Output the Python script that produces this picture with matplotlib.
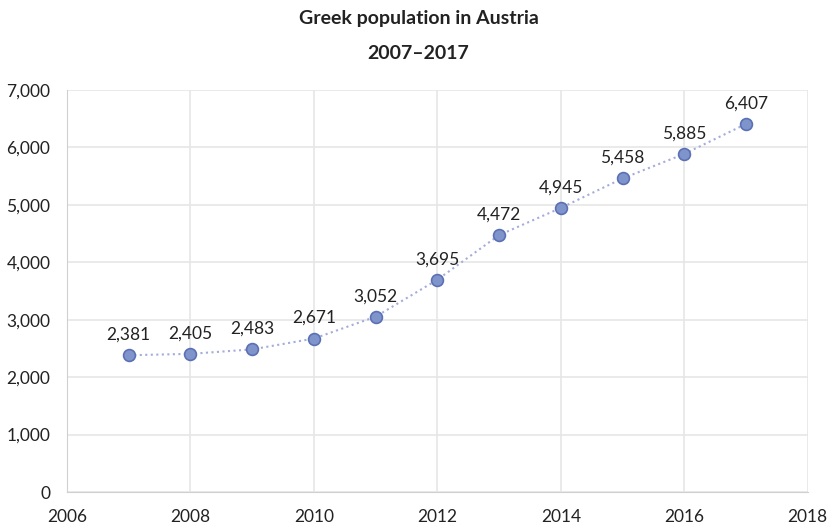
import matplotlib.pyplot as plt

years = [2007, 2008, 2009, 2010, 2011, 2012, 2013, 2014, 2015, 2016, 2017]
population = [2381, 2405, 2483, 2671, 3052, 3695, 4472, 4945, 5458, 5885, 6407]

plt.rcParams['font.family'] = ['Lato', 'DejaVu Sans']

fig = plt.figure(figsize=(8.37, 5.26), dpi=100)
ax = fig.add_axes([0.080, 0.0646, 0.885, 0.7645])

ax.plot(years, population, linestyle=':', color='#a3acdb', linewidth=1.5, zorder=2)
ax.plot(years, population, 'o', markersize=8.5, markerfacecolor='#8094cc',
        markeredgecolor='#5b70b4', markeredgewidth=1.2, zorder=3)

for x, y in zip(years, population):
    ax.annotate(f'{y:,}', (x, y), xytext=(0, 9), textcoords='offset points',
                ha='center', va='bottom', fontsize=12.5, color='#222222')

ax.set_xlim(2006, 2018)
ax.set_ylim(0, 7000)
ax.set_xticks(range(2006, 2019, 2))
ax.set_yticks(range(0, 7001, 1000))
ax.yaxis.set_major_formatter(plt.FuncFormatter(lambda v, p: f'{int(v):,}'))
ax.tick_params(length=0, labelsize=12.5, colors='#222222')
ax.tick_params(axis='x', pad=12)
ax.tick_params(axis='y', pad=12)
ax.grid(True, color='#e6e6e6', linewidth=1.2)
ax.set_axisbelow(True)
for s in ['top', 'right']:
    ax.spines[s].set_visible(False)
for s in ['left', 'bottom']:
    ax.spines[s].set_color('#d0d0d0')

fig.text(0.5, 0.964, 'Greek population in Austria', ha='center', va='center',
         fontsize=14, fontweight='bold', color='#222222')
fig.text(0.5, 0.899, '2007–2017', ha='center', va='center',
         fontsize=14, fontweight='bold', color='#222222')

fig.savefig('out.png', dpi=100)
